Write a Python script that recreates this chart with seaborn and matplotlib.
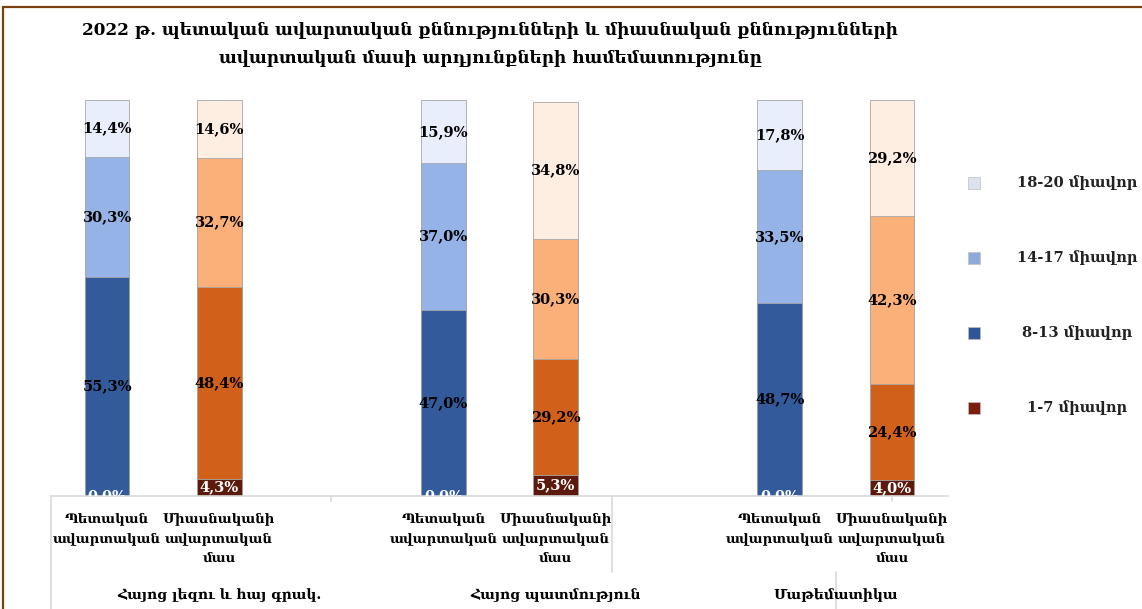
import matplotlib
matplotlib.use("Agg")
import numpy as np
import pandas as pd
import seaborn as sns
import matplotlib.pyplot as plt
from matplotlib.patches import Rectangle

sns.set_theme(style="white")
plt.rcParams["font.family"] = ["DejaVu Serif", "DejaVu Sans"]
plt.rcParams["text.color"] = "black"

# ---------------- data ----------------
title_lines = ["2022 թ. պետական ավարտական քննությունների և միասնական քննությունների",
               "ավարտական մասի արդյունքների համեմատությունը"]
subjects = ["Հայոց լեզու և հայ գրակ.", "Հայոց պատմություն", "Մաթեմատիկա"]
exam_types = ["Պետական\nավարտական", "Միասնականի\nավարտական\nմաս"]
levels = ["1-7 միավոր", "8-13 միավոր", "14-17 միավոր", "18-20 միավոր"]
# bars: subj1 state, subj1 unified, subj2 state, subj2 unified, subj3 state, subj3 unified
lvl_1_7 = [0.0, 4.3, 0.0, 5.3, 0.0, 4.0]
lvl_8_13 = [55.3, 48.4, 47.0, 29.2, 48.7, 24.4]
lvl_14_17 = [30.3, 32.7, 37.0, 30.3, 33.5, 42.3]
lvl_18_20 = [14.4, 14.6, 15.9, 34.8, 17.8, 29.2]

# ---------------- styles ----------------
state_colors = ["#7A1F12", "#335B9B", "#95B3E6", "#E8EEFB"]
unified_colors = ["#5C1A0C", "#D0601A", "#FBB07A", "#FEEEE1"]
legend_colors = ["#7B1E10", "#2F5597", "#8EAADB", "#DCE3EF"]
label_colors = ["white", "black", "black", "black"]

bar_ids = ["b0", "b1", "b2", "b3", "b4", "b5"]
order = ["b0", "b1", "gap0", "b2", "b3", "gap1", "b4", "b5"]
positions = [order.index(b) for b in bar_ids]

values = [lvl_1_7, lvl_8_13, lvl_14_17, lvl_18_20]
rows = []
for bi, b in enumerate(bar_ids):
    bottom = 0.0
    for li, lv in enumerate(levels):
        v = values[li][bi]
        rows.append(dict(slot=b, level=lv, value=v, bottom=bottom, top=bottom + v,
                         kind="state" if bi % 2 == 0 else "unified"))
        bottom += v
df = pd.DataFrame(rows)

W, H = 1142, 609
fig = plt.figure(figsize=(W / 100, H / 100), dpi=100)
fig.patch.set_facecolor("white")
ax = fig.add_axes([51 / W, (H - 496) / H, 897 / W, 396 / H])

for li in reversed(range(len(levels))):
    sub = df[df.level == levels[li]]
    pal = {b: (state_colors[li] if i % 2 == 0 else unified_colors[li]) for i, b in enumerate(bar_ids)}
    sns.barplot(data=sub, x="slot", y="top", hue="slot", order=order, hue_order=bar_ids,
                palette=pal, dodge=False, width=0.4, saturation=1, errorbar=None,
                legend=False, ax=ax, edgecolor="#A6A6A6", linewidth=0.6)

ax.set_xlim(-0.5, 7.5)
ax.set_ylim(0, 100)
ax.set_xticks([])
ax.set_yticks([])
ax.set_xlabel("")
ax.set_ylabel("")
for s in ["left", "right", "top"]:
    ax.spines[s].set_visible(False)
ax.spines["bottom"].set_color("#D9D9D9")
ax.spines["bottom"].set_linewidth(1.2)

# data labels
for _, r in df.iterrows():
    x = order.index(r.slot)
    li = levels.index(r.level)
    txt = f"{r.value:.1f}%".replace(".", ",")
    ax.text(x, r.bottom + r.value / 2, txt, ha="center", va="center",
            fontsize=10.5, fontweight="bold", color=label_colors[li], clip_on=True)

# category labels
xt = ax.get_xaxis_transform()
for i, p in enumerate(positions):
    ax.text(p, -0.04, exam_types[i % 2], transform=xt, ha="center", va="top",
            fontsize=9.5, fontweight="bold", linespacing=1.7, color="black")
for gx, s in zip([1.0, 4.0, 6.5], subjects):
    ax.text(gx, -0.25, s, transform=xt, ha="center", va="center",
            fontsize=10, fontweight="bold", color="black")

# multi-level axis separators
sep_col = "#D9D9D9"
for x, y0, y1 in [(-0.5, 0, -0.3), (2.0, 0, -0.012), (4.5, 0, -0.192),
                  (6.5, -0.192, -0.3), (7.0, 0, -0.012)]:
    ax.plot([x, x], [y0, y1], transform=xt, color=sep_col, lw=1.2, clip_on=False)

# title
fig.text(490 / W, 1 - 30 / H, title_lines[0], ha="center", va="center",
         fontsize=12.2, fontweight="bold", color="black")
fig.text(490 / W, 1 - 58 / H, title_lines[1], ha="center", va="center",
         fontsize=12.2, fontweight="bold", color="black")

# legend (top to bottom: highest level first)
for li, yp in zip([3, 2, 1, 0], [183, 258, 333, 408]):
    fig.add_artist(Rectangle((968 / W, 1 - (yp + 6) / H), 12 / W, 12 / H,
                             transform=fig.transFigure, facecolor=legend_colors[li],
                             edgecolor="#BFBFBF", lw=0.5))
    fig.text(1077 / W, 1 - yp / H, levels[li], ha="center", va="center",
             fontsize=10.5, fontweight="bold", color="#222222")

# outer frame
fig.add_artist(Rectangle((3 / W, -0.1), 1.2, 1.1 - 7 / H, transform=fig.transFigure,
                         fill=False, edgecolor="#7A4010", lw=1.6))

fig.savefig("out.png", dpi=100)
